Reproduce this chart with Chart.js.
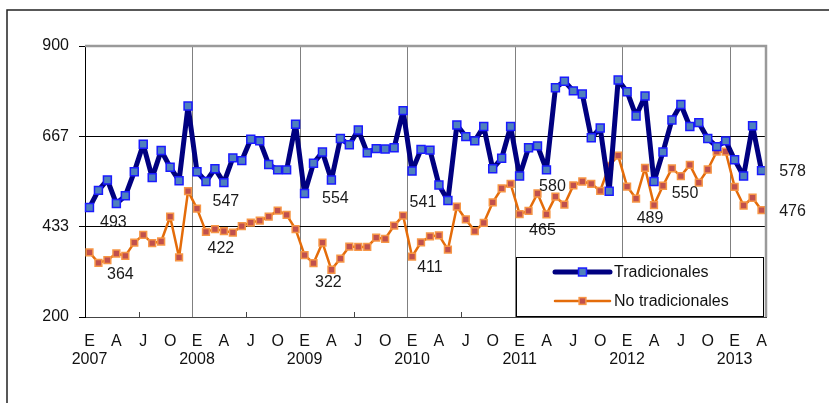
<!DOCTYPE html>
<html>
<head>
<meta charset="utf-8">
<script src="https://cdn.jsdelivr.net/npm/chart.js@4/dist/chart.umd.min.js"></script>
<style>
  html, body { margin: 0; padding: 0; background: #fff; }
  canvas { display: block; }
</style>
</head>
<body>
<canvas id="exportChart" width="829" height="403"></canvas>
<script>
// months (Spanish initials) and years, Jan 2007 - Apr 2013
const monthLetters = ["E", "F", "M", "A", "M", "J", "J", "A", "S", "O", "N", "D"];
const years = [2007, 2008, 2009, 2010, 2011, 2012, 2013];
const lastYearMonths = 4;

const tradicionales = [
  483, 527, 554, 493, 513, 575, 646, 560, 630, 587, 552, 745,
  575, 550, 583, 547, 611, 604, 659, 655, 594, 580, 580, 698,
  519, 597, 626, 554, 661, 645, 683, 624, 635, 634, 637, 733,
  577, 633, 631, 541, 501, 696, 666, 655, 692, 583, 610, 692,
  564, 637, 642, 580, 792, 809, 784, 776, 663, 688, 525, 812,
  782, 719, 771, 550, 626, 709, 749, 692, 702, 661, 640, 655,
  606, 564, 694, 578
];

const noTradicionales = [
  367, 340, 347, 364, 358, 392, 412, 391, 395, 459, 354, 525,
  480, 420, 427, 422, 418, 435, 444, 449, 459, 475, 464, 427,
  360, 339, 392, 322, 351, 382, 381, 381, 405, 402, 436, 462,
  356, 393, 408, 411, 374, 485, 452, 422, 443, 496, 532, 544,
  466, 474, 519, 465, 511, 490, 540, 550, 544, 526, 590, 617,
  537, 506, 585, 489, 539, 584, 564, 593, 547, 581, 627, 627,
  536, 488, 508, 476
];

const yTicks = [200, 433.33, 666.67, 900];
// April of every year gets a value label
const labelIndexes = [3, 15, 27, 39, 51, 63, 75];

const categories = [];
years.forEach((y, yi) => {
  const n = yi === years.length - 1 ? lastYearMonths : 12;
  for (let m = 0; m < n; m++) categories.push(monthLetters[m] + " " + y);
});

const FONT = '"Liberation Sans", Arial, sans-serif';
const FONT_SIZE = 16;
const TRAD_LINE = "#000080";
const NT_LINE = "#e46c0a";

// label offsets (dx, dy) from the point, one per labelled index
const tradOffsets = [[-3, 19], [2, 19], [4, 19], [-16, 18], [6, 17], [31, 12], [31, 1]];
const ntOffsets = [[4, 21], [-3, 18], [-3, 13], [-9, 32], [-4, 16], [-4, 13], [31, 1]];

const extrasPlugin = {
  id: "extras",
  afterDraw(chart) {
    const ctx = chart.ctx;
    const area = chart.chartArea;
    const x = chart.scales.x;
    ctx.save();

    // outer frame
    ctx.strokeStyle = "#222";
    ctx.lineWidth = 1.5;
    ctx.beginPath();
    ctx.moveTo(7, 403);
    ctx.lineTo(7, 10);
    ctx.lineTo(829, 10);
    ctx.stroke();

    // top and right plot border
    ctx.strokeStyle = "#9a9a9a";
    ctx.lineWidth = 2.5;
    ctx.beginPath();
    ctx.moveTo(area.left, area.top);
    ctx.lineTo(area.right, area.top);
    ctx.lineTo(area.right, area.bottom);
    ctx.stroke();

    // inner half-year tick marks
    ctx.strokeStyle = "#444";
    ctx.lineWidth = 1;
    for (let i = 6; i < categories.length; i += 12) {
      const px = Math.round((x.getPixelForValue(i - 1) + x.getPixelForValue(i)) / 2) + 0.5;
      ctx.beginPath();
      ctx.moveTo(px, area.bottom);
      ctx.lineTo(px, area.bottom - 5);
      ctx.stroke();
    }

    // value labels
    ctx.font = FONT_SIZE + "px " + FONT;
    ctx.fillStyle = "#1a1a1a";
    ctx.textAlign = "center";
    ctx.textBaseline = "middle";
    [[0, tradOffsets], [1, ntOffsets]].forEach(([di, offs]) => {
      const meta = chart.getDatasetMeta(di);
      labelIndexes.forEach((idx, k) => {
        const pt = meta.data[idx];
        const v = chart.data.datasets[di].data[idx];
        ctx.fillText(String(v), pt.x + offs[k][0], pt.y + offs[k][1]);
      });
    });

    // legend box
    ctx.fillStyle = "#fff";
    ctx.fillRect(516, 257, 247, 59);
    ctx.strokeStyle = "#000";
    ctx.lineWidth = 1;
    ctx.strokeRect(516.5, 257.5, 247, 59);
    const rows = [[0, 272], [1, 301]];
    rows.forEach(([di, ly]) => {
      const ds = chart.data.datasets[di];
      ctx.strokeStyle = ds.borderColor;
      ctx.lineWidth = ds.borderWidth;
      ctx.lineCap = "round";
      ctx.beginPath();
      ctx.moveTo(555, ly);
      ctx.lineTo(610, ly);
      ctx.stroke();
      const s = ds.pointRadius * Math.SQRT2;
      ctx.fillStyle = ds.pointBackgroundColor;
      ctx.strokeStyle = ds.pointBorderColor;
      ctx.lineWidth = ds.pointBorderWidth;
      ctx.fillRect(582.5 - s / 2, ly - s / 2, s, s);
      ctx.strokeRect(582.5 - s / 2, ly - s / 2, s, s);
      ctx.fillStyle = "#111";
      ctx.textAlign = "left";
      ctx.fillText(ds.label, 614, ly + 1);
    });
    ctx.restore();
  },
};

new Chart(document.getElementById("exportChart"), {
  type: "line",
  data: {
    labels: categories,
    datasets: [
      {
        label: "Tradicionales",
        data: tradicionales,
        borderColor: TRAD_LINE,
        borderWidth: 5,
        borderJoinStyle: "round",
        tension: 0,
        pointStyle: "rect",
        pointRadius: 5.6,
        pointBackgroundColor: "#4f81bd",
        pointBorderColor: "#1a1aff",
        pointBorderWidth: 1.5,
      },
      {
        label: "No tradicionales",
        data: noTradicionales,
        borderColor: NT_LINE,
        borderWidth: 2.5,
        borderJoinStyle: "round",
        tension: 0,
        pointStyle: "rect",
        pointRadius: 4.8,
        pointBackgroundColor: "#c0504d",
        pointBorderColor: "#f79646",
        pointBorderWidth: 1.5,
      },
    ],
  },
  options: {
    responsive: false,
    animation: false,
    devicePixelRatio: 1,
    layout: {
      padding: { left: 0, top: 46, right: 63, bottom: 0 },
    },
    plugins: {
      legend: { display: false },
      tooltip: { enabled: false },
    },
    scales: {
      x: {
        offset: true,
        afterFit(scale) {
          scale.height = 86;
        },
        grid: {
          offset: true,
          drawTicks: false,
          color: (c) => (c.index > 0 && c.index % 12 === 0 ? "#808080" : "rgba(0,0,0,0)"),
          lineWidth: 1,
        },
        border: { color: "#444", width: 1 },
        ticks: {
          autoSkip: false,
          maxRotation: 0,
          minRotation: 0,
          padding: 15,
          color: "#111",
          font: { family: FONT, size: FONT_SIZE, lineHeight: 1.15 },
          callback: (val, index) => {
            if (index % 3 !== 0) return "";
            const m = monthLetters[index % 12];
            if (index % 12 === 0) return [m, String(years[index / 12])];
            return m;
          },
        },
      },
      y: {
        min: 200,
        max: 900,
        afterFit(scale) {
          scale.width = 85;
        },
        afterBuildTicks(scale) {
          scale.ticks = yTicks.map((v) => ({ value: v }));
        },
        grid: {
          color: (c) => {
            const v = c.tick ? c.tick.value : 0;
            return v > 300 && v < 800 ? "#000" : "rgba(0,0,0,0)";
          },
          tickColor: "#000",
          tickLength: 6,
          lineWidth: 1,
        },
        border: { color: "#000", width: 1 },
        ticks: {
          padding: 10,
          color: "#111",
          font: { family: FONT, size: FONT_SIZE },
          callback: (v) => String(Math.round(v)),
        },
      },
    },
  },
  plugins: [extrasPlugin],
});
</script>
</body>
</html>
